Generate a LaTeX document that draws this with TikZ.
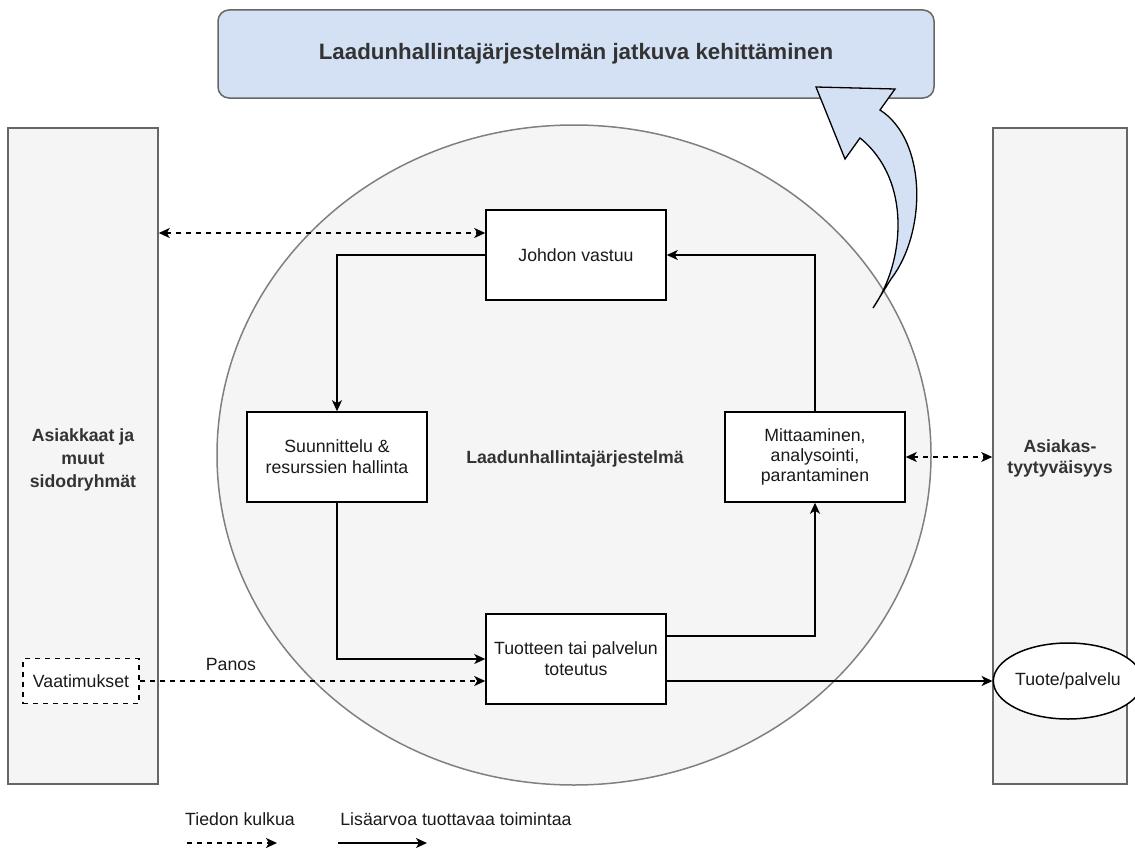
\documentclass[tikz,border=0pt]{standalone}
\usepackage{fontspec}
\setmainfont{Liberation Sans}
\usetikzlibrary{arrows.meta,shapes.geometric,calc}
\definecolor{panelfill}{HTML}{F5F5F5}
\definecolor{panelline}{HTML}{666666}
\definecolor{ellline}{HTML}{808080}
\definecolor{bluefill}{HTML}{D4E1F5}
\definecolor{labeltxt}{HTML}{333333}
\definecolor{boxtxt}{HTML}{1A1A1A}
\begin{document}
\begin{tikzpicture}[x=1pt,y=-1pt,
  >={Stealth[length=11pt,width=10pt,inset=3pt]},
  every node/.style={font=\fontsize{17.7}{21}\selectfont, text=boxtxt},
  procbox/.style={draw, line width=1.5pt, fill=white, minimum width=180pt, minimum height=90pt, align=center, inner sep=0pt},
  panel/.style={draw=panelline, fill=panelfill, line width=1.5pt, minimum height=656pt, inner sep=0pt},
  boldlabel/.style={font=\fontsize{17.7}{23}\selectfont\bfseries, text=labeltxt, align=center},
  conn/.style={line width=1.5pt, ->},
  dconn/.style={line width=1.6pt, dash pattern=on 5pt off 5pt, ->},
  ddconn/.style={line width=1.6pt, dash pattern=on 5pt off 5pt, <->},
]
\useasboundingbox (0,0) rectangle (1135,851);

% main ellipse
\node[ellipse, draw=ellline, fill=panelfill, line width=1.5pt, minimum width=714pt, minimum height=660pt, inner sep=0pt] (lhj) at (574,455) {};
\node[boldlabel] (lhjlabel) at (575,459) {Laadunhallintajärjestelmä};

% side panels
\node[panel, minimum width=150pt] (leftp) at (83,456) {};
\node[panel, minimum width=134pt] (rightp) at (1060,456) {};
\node[boldlabel] (leftlabel) at (83,460) {Asiakkaat ja\\muut\\sidodryhmät};
\node[boldlabel, font=\fontsize{17.7}{21}\selectfont\bfseries] (rightlabel) at (1060,458) {Asiakas-\\tyytyväisyys};

% title
\node[draw=panelline, fill=bluefill, line width=1.5pt, rounded corners=11pt, minimum width=716pt, minimum height=88pt, inner sep=0pt,
      font=\fontsize{22.3}{26}\selectfont\bfseries, text=labeltxt] (title) at (576,54) {Laadunhallintajärjestelmän jatkuva kehittäminen};

% process boxes
\node[procbox] (johdon) at (576,255) {Johdon vastuu};
\node[procbox] (suun) at (337,457) {Suunnittelu \&\\resurssien hallinta};
\node[procbox, font=\fontsize{17.7}{20}\selectfont] (mitt) at (815,457) {Mittaaminen,\\analysointi,\\parantaminen};
\node[procbox] (tuot) at (576,659) {Tuotteen tai palvelun\\toteutus};

% requirements and product
\node[draw, line width=1.5pt, dash pattern=on 5pt off 5pt, fill=white, minimum width=116pt, minimum height=45pt, inner sep=0pt] (vaat) at (81,681) {Vaatimukset};
\node[ellipse, draw, line width=1.5pt, fill=white, minimum width=119pt, minimum height=76pt, inner sep=0pt] (tp) at (1068,681) {Tuote/palvelu};

% cycle connectors
\draw[conn] (johdon.west) -| (suun.north);
\draw[conn] (suun.south) |- (tuot.west);
\draw[conn] ([yshift=23pt]tuot.east) -| (mitt.south);
\draw[conn] (mitt.north) |- (johdon.east);

% information flows
\coordinate (jd) at ([yshift=22pt]johdon.west);
\draw[ddconn] (leftp.east |- jd) -- (jd);
\draw[ddconn] (mitt.east) -- (mitt.east -| rightp.west);
\draw[dconn] (vaat.east) -- (vaat.east -| tuot.west);
\node (panos) at (231,664) {Panos};
\draw[conn] (tuot.east |- tp.west) -- (tp.west);

% curved block arrow
\draw[fill=bluefill, line width=1.3pt, line join=miter] (816,87) -- (895,89) -- (880,110)
  .. controls (927,140) and (927,232) .. (891,279) -- (873,308)
  .. controls (905,262) and (912,180) .. (860,138) -- (845,159) -- cycle;

% legend
\node (leg1) at (240,819) {Tiedon kulkua};
\node (leg2) at (456,819) {Lisäarvoa tuottavaa toimintaa};
\coordinate (l1a) at (187,843);
\coordinate (l1b) at (277,843);
\coordinate (l2a) at (338,843);
\coordinate (l2b) at (427,843);
\draw[dconn] (l1a) -- (l1b);
\draw[conn] (l2a) -- (l2b);
\end{tikzpicture}
\end{document}
